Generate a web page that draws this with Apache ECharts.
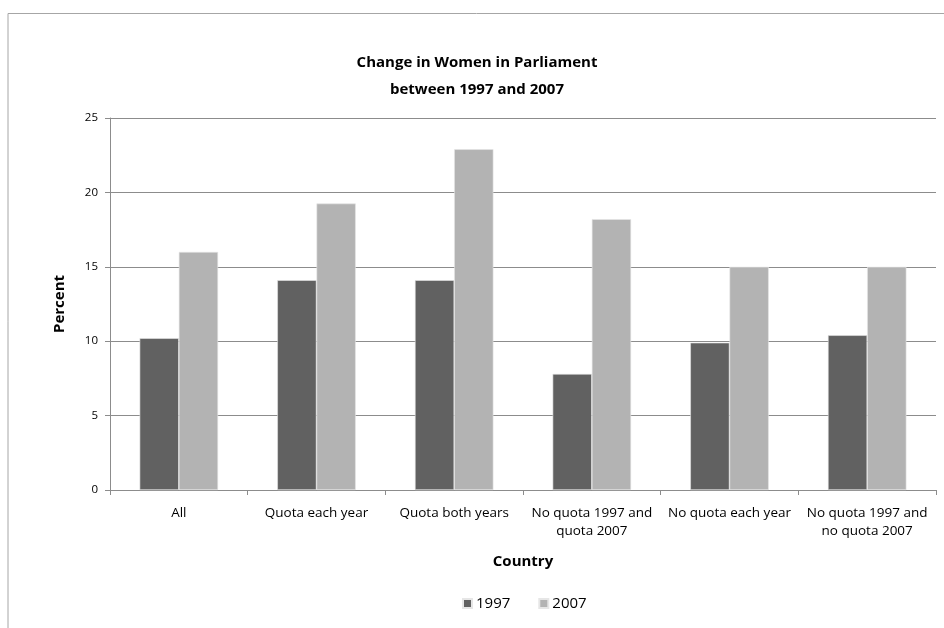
<!DOCTYPE html>
<html>
<head>
<meta charset="utf-8">
<script src="https://cdn.jsdelivr.net/npm/echarts@6/dist/echarts.min.js"></script>
<style>
html,body{margin:0;padding:0;background:#fff;}
#c{width:944px;height:628px;}
</style>
</head>
<body>
<div id="c"></div>
<script>
const categories = ["All", "Quota each year", "Quota both years", "No quota 1997 and quota 2007", "No quota each year", "No quota 1997 and no quota 2007"];
const seriesNames = ["1997", "2007"];
const values1997 = [10.2, 14.1, 14.1, 7.8, 9.9, 10.4];
const values2007 = [16.0, 19.25, 22.9, 18.2, 15.0, 15.0];
const yTicks = [0, 5, 10, 15, 20, 25];

const FONT = 'Open Sans';
const chart = echarts.init(document.getElementById('c'), null, {renderer: 'canvas'});
chart.setOption({
  animation: false,
  backgroundColor: '#fff',
  textStyle: {fontFamily: FONT},
  graphic: [{
    type: 'rect', left: 5.5, top: 11, z: -1,
    shape: {width: 960, height: 700},
    style: {fill: 'none', stroke: '#a6a6a6', lineWidth: 1}
  }],
  title: {
    text: 'Change in Women in Parliament\nbetween 1997 and 2007',
    left: 472, top: 44, textAlign: 'center',
    textStyle: {fontFamily: FONT, fontSize: 15, fontWeight: 'bold', color: '#000', lineHeight: 27}
  },
  legend: {
    data: seriesNames,
    bottom: 12, left: 457,
    itemWidth: 9, itemHeight: 9, itemGap: 28,
    icon: 'rect',
    textStyle: {fontFamily: FONT, fontSize: 15, color: '#000', padding: [0, 0, 0, -1]}
  },
  grid: {left: 110, right: 8, top: 118, bottom: 138, containLabel: false},
  xAxis: {
    type: 'category',
    data: categories,
    name: 'Country', nameLocation: 'middle', nameGap: 64,
    nameTextStyle: {fontFamily: FONT, fontSize: 15, fontWeight: 'bold', color: '#000'},
    axisLine: {lineStyle: {color: '#8c8c8c'}},
    axisTick: {show: true, alignWithLabel: false, length: 5, lineStyle: {color: '#8c8c8c'}},
    axisLabel: {
      fontFamily: FONT, fontSize: 13.5, color: '#000', margin: 14, lineHeight: 18, interval: 0,
      formatter: v => v.replace(' and ', ' and\n')
    }
  },
  yAxis: {
    type: 'value', min: 0, max: 25, interval: 5,
    name: 'Percent', nameLocation: 'middle', nameGap: 43, nameRotate: 90,
    nameTextStyle: {fontFamily: FONT, fontSize: 15, fontWeight: 'bold', color: '#000'},
    axisLine: {show: true, lineStyle: {color: '#8c8c8c'}},
    axisTick: {show: true, length: 5, lineStyle: {color: '#8c8c8c'}},
    axisLabel: {fontFamily: FONT, fontSize: 11.5, color: '#000', margin: 12,
      formatter: v => yTicks.includes(v) ? String(v) : ''},
    splitLine: {show: true, lineStyle: {color: '#8c8c8c', width: 1}}
  },
  series: [
    {name: seriesNames[0], type: 'bar', data: values1997, barGap: '0%', barCategoryGap: '43%',
     itemStyle: {color: '#616161', borderColor: '#e6e6e6', borderWidth: 0.6}},
    {name: seriesNames[1], type: 'bar', data: values2007, barGap: '0%', barCategoryGap: '43%',
     itemStyle: {color: '#b3b3b3', borderColor: '#e6e6e6', borderWidth: 0.6}}
  ]
});
</script>
</body>
</html>
